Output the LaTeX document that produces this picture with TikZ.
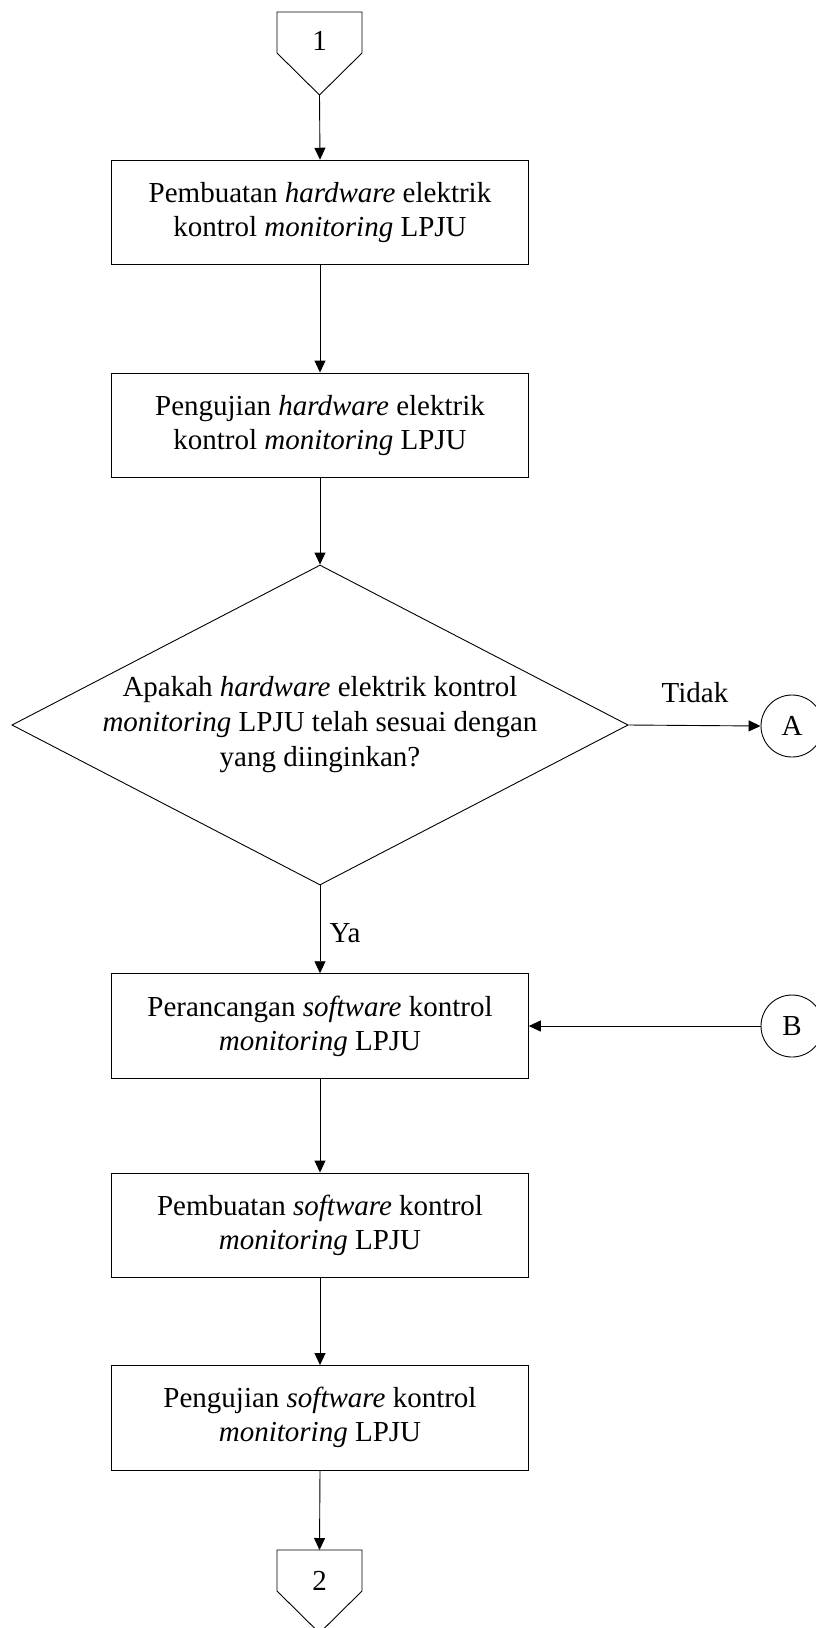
\documentclass[tikz,border=0pt]{standalone}
\usepackage{fontspec}
\setmainfont{Liberation Serif}
\usetikzlibrary{shapes.geometric,arrows.meta}
\begin{document}
\begin{tikzpicture}[x=1pt,y=-1pt,
  every node/.style={font=\fontsize{29}{34}\selectfont},
  stepbox/.style={draw,line width=1pt,rectangle,minimum width=416.6pt,minimum height=104.5pt,inner sep=0pt,align=center},
  decision/.style={draw,line width=0.9pt,diamond,minimum width=616.3pt,minimum height=320pt,inner sep=0pt},
  conn/.style={draw,line width=0.9pt,circle,minimum size=62pt,inner sep=0pt},
  flow/.style={draw,line width=0.9pt,-{Triangle[length=12pt,width=11pt]}},
  offpage/.style={draw,line width=0.9pt}]
\useasboundingbox (0,0) rectangle (815,1628);

% off-page connector 1
\draw[offpage] (277,12) -- (362,12) -- (362,53) -- (319.5,95) -- (277,53) -- cycle;
\node (c1) at (319.5,41) {1};
\coordinate (c1tip) at (319.5,95);

% process steps
\node[stepbox] (b1) at (320,212.5) {Pembuatan \textit{hardware} elektrik\\kontrol \textit{monitoring} LPJU};
\node[stepbox] (b2) at (320,425.3) {Pengujian \textit{hardware} elektrik\\kontrol \textit{monitoring} LPJU};

% decision
\node[decision] (d) at (320,725) {};
\node[align=center,font=\fontsize{29}{35}\selectfont] (dtext) at (320,725)
  {Apakah \textit{hardware} elektrik kontrol\\\textit{monitoring} LPJU telah sesuai dengan\\yang diinginkan?};

\node[conn] (A) at (792,726) {A};
\node (tidak) at (695,693) {Tidak};

\node[stepbox] (b3) at (320,1026) {Perancangan \textit{software} kontrol\\\textit{monitoring} LPJU};
\node (ya) at (345,933) {Ya};
\node[conn] (B) at (792,1026) {B};

\node[stepbox] (b4) at (320,1225.3) {Pembuatan \textit{software} kontrol\\\textit{monitoring} LPJU};
\node[stepbox] (b5) at (320,1417.8) {Pengujian \textit{software} kontrol\\\textit{monitoring} LPJU};

% off-page connector 2
\draw[offpage] (277,1550) -- (362,1550) -- (362,1591) -- (319.5,1633) -- (277,1591) -- cycle;
\node (c2) at (319.5,1581) {2};
\coordinate (c2top) at (319.5,1550);

% connectors
\draw[flow] (c1tip) -- (b1.north);
\draw[flow] (b1.south) -- (b2.north);
\draw[flow] (b2.south) -- (d.north);
\draw[flow] (d.east) -- (A.west);
\draw[flow] (d.south) -- (b3.north);
\draw[flow] (B.west) -- (b3.east);
\draw[flow] (b3.south) -- (b4.north);
\draw[flow] (b4.south) -- (b5.north);
\draw[flow] (b5.south) -- (c2top);
\end{tikzpicture}
\end{document}
